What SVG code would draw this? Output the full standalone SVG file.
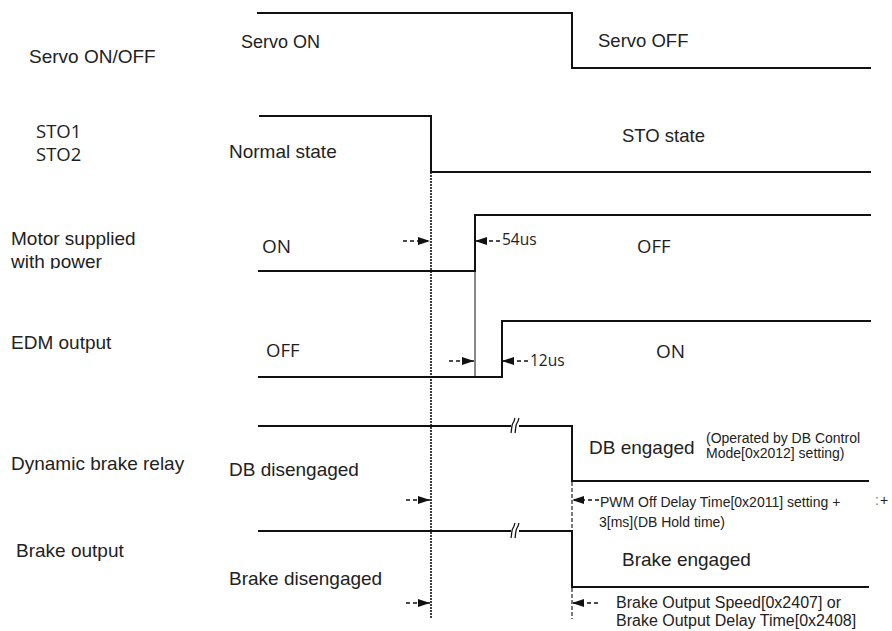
<svg xmlns="http://www.w3.org/2000/svg" width="892" height="631" viewBox="0 0 892 631">
<style>
  .sig { fill: none; stroke: #111; stroke-width: 2; stroke-linejoin: miter; }
  .t { font-family: "Liberation Sans", Arial, sans-serif; font-size: 19px; fill: #222; }
  .o { font-family: "Open Sans", "Noto Sans", sans-serif; font-size: 18.5px; fill: #1e1e1e; }
  .s14 { font-size: 14px; }
  .s16 { font-size: 16px; }
  .arr { fill: none; stroke: #111; stroke-width: 1.3; stroke-dasharray: 4 3; marker-end: url(#head); }
  .dot { fill: none; stroke: #111; stroke-width: 1.6; stroke-dasharray: 2 1; }
  .dash { fill: none; stroke: #222; stroke-width: 1.2; stroke-dasharray: 4 2; }
  .thin { fill: none; stroke: #111; stroke-width: 1; }
  .brk { fill: none; stroke: #111; stroke-width: 1.3; }
</style>
<defs>
  <marker id="head" markerUnits="userSpaceOnUse" markerWidth="12" markerHeight="8" refX="12" refY="4" orient="auto">
    <path d="M0,0 L12,4 L0,8 z" fill="#111"/>
  </marker>
  <clipPath id="clipPow"><rect x="0" y="250" width="200" height="19"/></clipPath>
  <g id="breakmark">
    <rect x="-4" y="-2" width="8" height="4" fill="#fff"/>
    <path class="brk" d="M-4,7 C-3,3 -4,0 -2,-3 S-1,-6 0,-8"/>
    <path class="brk" d="M0,7 C1,3 0,0 2,-3 S3,-6 4,-8"/>
  </g>
</defs>

<g id="servo">
  <text class="t" x="29" y="63">Servo ON/OFF</text>
  <polyline class="sig" points="257,13 572,13 572,68 871,68"/>
  <text class="t" x="241" y="48" style="font-size:18px">Servo ON</text>
  <text class="t" x="598" y="47" style="font-size:18.5px">Servo OFF</text>
</g>

<g id="sto">
  <text class="o" x="36" y="138">STO1</text>
  <text class="o" x="36" y="161">STO2</text>
  <polyline class="sig" points="259,116 431,116 431,172 871,172"/>
  <text class="t" x="229" y="158">Normal state</text>
  <text class="t" x="622" y="142" style="font-size:18.5px">STO state</text>
</g>

<g id="motor">
  <text class="t" x="11" y="245">Motor supplied</text>
  <text class="t" x="11" y="268" clip-path="url(#clipPow)">with power</text>
  <polyline class="sig" points="258,271 475,271 475,215 871,215"/>
  <text class="o" x="262" y="253" style="font-size:19px">ON</text>
  <text class="o" x="637" y="253">OFF</text>
  <text class="o" x="502" y="245" style="font-size:15.5px">54us</text>
</g>

<g id="edm">
  <text class="t" x="11" y="349">EDM output</text>
  <polyline class="sig" points="258,377 502,377 502,321 871,321"/>
  <text class="o" x="266" y="357">OFF</text>
  <text class="o" x="656" y="358" style="font-size:19px">ON</text>
  <text class="o" x="530" y="366" style="font-size:15.5px">12us</text>
</g>

<g id="db">
  <text class="t" x="11" y="470">Dynamic brake relay</text>
  <polyline class="sig" points="258,426 572,426 572,481 869,481"/>
  <use href="#breakmark" x="515" y="426"/>
  <text class="t" x="229" y="476">DB disengaged</text>
  <text class="t" x="589" y="454">DB engaged</text>
  <text class="t s14" x="706" y="443">(Operated by DB Control</text>
  <text class="t s14" x="706" y="458">Mode[0x2012] setting)</text>
  <text class="t s14" x="600" y="507">PWM Off Delay Time[0x2011] setting +</text>
  <text class="t s14" x="599" y="527">3[ms](DB Hold time)</text>
  <text class="t s14" x="875" y="505" style="fill:#777">:</text>
  <text class="t s14" x="880" y="505">+</text>
</g>

<g id="brake">
  <text class="t" x="16" y="557">Brake output</text>
  <polyline class="sig" points="258,531 572,531 572,587 869,587"/>
  <use href="#breakmark" x="515" y="531"/>
  <text class="t" x="229" y="585">Brake disengaged</text>
  <text class="t" x="622" y="566">Brake engaged</text>
  <text class="t s16" x="616" y="608">Brake Output Speed[0x2407] or</text>
  <text class="t s16" x="616" y="626">Brake Output Delay Time[0x2408]</text>
</g>

<g id="connectors">
  <line class="dot" x1="431" y1="172" x2="431" y2="619"/>
  <line class="thin" x1="475" y1="271" x2="475" y2="377"/>
  <line class="dash" x1="572" y1="482" x2="572" y2="529"/>
  <line class="dash" x1="572" y1="588" x2="572" y2="619"/>
  <line class="arr" x1="403" y1="241" x2="430" y2="241"/>
  <line class="arr" x1="500" y1="241" x2="475" y2="241"/>
  <line class="arr" x1="449" y1="361" x2="474" y2="361"/>
  <line class="arr" x1="528" y1="361" x2="502" y2="361"/>
  <line class="arr" x1="406" y1="500" x2="430" y2="500"/>
  <line class="arr" x1="599" y1="500" x2="572" y2="500"/>
  <line class="arr" x1="406" y1="603" x2="430" y2="603"/>
  <line class="arr" x1="598" y1="603" x2="572" y2="603"/>
</g>
</svg>
